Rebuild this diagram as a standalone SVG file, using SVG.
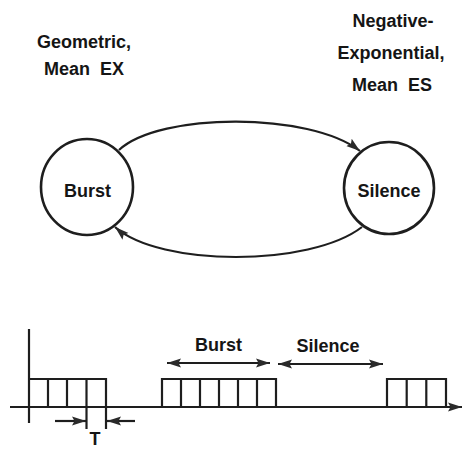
<svg xmlns="http://www.w3.org/2000/svg" width="463" height="451" viewBox="0 0 463 451">
<defs>
<style>
.t{font-family:"Liberation Sans",Arial,Helvetica,sans-serif;font-weight:bold;font-size:18px;fill:#151515;text-anchor:middle}
.ln{fill:none;stroke:#1e1e1e;stroke-width:2.2}
.nd{fill:#fff;stroke:#1e1e1e;stroke-width:2.6}
.bx{fill:none;stroke:#1e1e1e;stroke-width:2.2}
</style>
<marker id="ah" markerWidth="15" markerHeight="11" refX="14" refY="5.5" orient="auto" markerUnits="userSpaceOnUse">
<path d="M0,1 L14,5.5 L0,10 L2.5,5.5 Z" fill="#2a2a2a"/>
</marker>
<marker id="ahs" markerWidth="15" markerHeight="11" refX="1" refY="5.5" orient="auto" markerUnits="userSpaceOnUse">
<path d="M15,1 L1,5.5 L15,10 L12.5,5.5 Z" fill="#2a2a2a"/>
</marker>
</defs>
<rect width="463" height="451" fill="#fff"/>

<g id="label-burst">
<text class="t" x="84" y="48">Geometric,</text>
<text class="t" x="84" y="75" xml:space="preserve">Mean  EX</text>
</g>
<g id="label-silence">
<text class="t" x="393" y="27">Negative-</text>
<text class="t" x="391" y="59">Exponential,</text>
<text class="t" x="392" y="91" xml:space="preserve">Mean  ES</text>
</g>

<g id="connectors">
<path class="ln" d="M119,150 C160,112 310,112 360,151" marker-end="url(#ah)"/>
<path class="ln" d="M362,227 C310,267 160,267 115,227" marker-end="url(#ah)"/>
</g>

<g id="node-burst">
<ellipse class="nd" cx="87" cy="187" rx="46" ry="48"/>
<text class="t" x="87.5" y="197">Burst</text>
</g>
<g id="node-silence">
<ellipse class="nd" cx="389" cy="188" rx="45" ry="46"/>
<text class="t" x="389" y="197">Silence</text>
</g>

<g id="timeline">
<line class="ln" x1="29" y1="329" x2="29" y2="423"/>
<line class="ln" x1="10" y1="407" x2="462" y2="407" marker-end="url(#ah)"/>
<path class="bx" d="M29,379 H106 V407 M48,379 V407 M67,379 V407 M86.5,379 V407"/>
<path class="bx" d="M162,379 H276 V407 H162 Z M181,379 V407 M200,379 V407 M219,379 V407 M238,379 V407 M257,379 V407"/>
<path class="bx" d="M387,379 H446 V407 H387 Z M406.7,379 V407 M426.3,379 V407"/>
<line class="ln" x1="86.5" y1="407" x2="86.5" y2="429"/>
<line class="ln" x1="106" y1="407" x2="106" y2="429"/>
<line class="ln" x1="55" y1="421" x2="86" y2="421" marker-end="url(#ah)"/>
<line class="ln" x1="135" y1="421" x2="107" y2="421" marker-end="url(#ah)"/>
<text class="t" x="95" y="445">T</text>
<line class="ln" x1="167" y1="363" x2="270" y2="363" marker-start="url(#ahs)" marker-end="url(#ah)"/>
<line class="ln" x1="278" y1="364" x2="383" y2="364" marker-start="url(#ahs)" marker-end="url(#ah)"/>
<text class="t" x="218.5" y="351">Burst</text>
<text class="t" x="328" y="352">Silence</text>
</g>
</svg>
